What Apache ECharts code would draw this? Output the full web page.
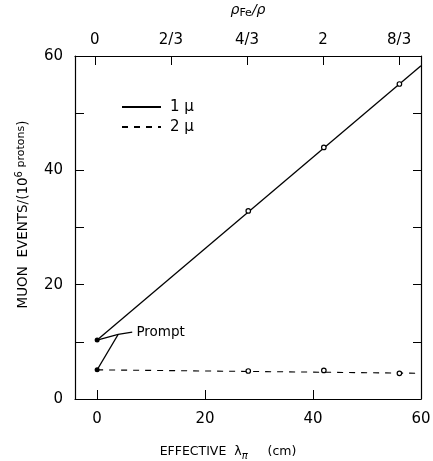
<!DOCTYPE html>
<html><head><meta charset="utf-8">
<script src="https://cdn.jsdelivr.net/npm/echarts@6/dist/echarts.min.js"></script>
<style>html,body{margin:0;padding:0;background:#fff}#c{width:433px;height:461px}</style>
</head><body><div id="c"></div>
<script>
// ---- data ----
const bottomTicks = [0, 20, 40, 60];
const topTicks = [0, 2, 4, 6, 8];           // in units of 1/3
const topTickLabels = ['0', '2/3', '4/3', '2', '8/3'];
const yTicks = [0, 10, 20, 30, 40, 50, 60];
const yTickLabels = ['0', '', '20', '', '40', '', '60'];

const mu1Points = [[28, 32.9], [42, 44.0], [56, 55.1]];
const mu2Points = [[28, 4.9], [42, 5.0], [56, 4.5]];
const promptPoints = [[0, 10.3], [0, 5.1]];
const fit1 = [[0, 10.3], [60, 58.3]];
const fit2 = [[0, 5.1], [60, 4.5]];
const leader1 = [[6.5, 11.7], [3.9, 11.3], [0, 10.3]];
const leader2 = [[3.9, 11.3], [0, 5.1]];
const promptLabel = [[6.9, 11.6]];

const FONT = 'DejaVu Sans, Liberation Sans, sans-serif';
const chart = echarts.init(document.getElementById('c'), null, {renderer: 'canvas'});
const axisLine = {show: true, onZero: false, lineStyle: {color: '#000', width: 1.2}};
chart.setOption({
  backgroundColor: '#fff',
  animation: false,
  grid: {left: 75, right: 12, top: 56, bottom: 62, containLabel: false, outerBoundsMode: 'none'},
  legend: {
    orient: 'vertical', left: 116, top: 94, itemWidth: 39, itemHeight: 12, itemGap: 4,
    data: ['1 μ', '2 μ'],
    itemStyle: {opacity: 0},
    textStyle: {fontFamily: FONT, fontSize: 15, lineHeight: 16, color: '#000', padding: [0, 0, 0, 4]}
  },
  xAxis: [
    {type: 'value', position: 'bottom', min: -4.1, max: 60,
     axisLine: axisLine, splitLine: {show: false},
     axisTick: {inside: true, length: 9, customValues: bottomTicks, lineStyle: {color: '#000'}},
     axisLabel: {customValues: bottomTicks, fontFamily: FONT, fontSize: 15, color: '#000', margin: 13},
     name: '{a|EFFECTIVE  λ}{s|π}{a|     (cm)}', nameLocation: 'middle', nameGap: 44,
     nameTextStyle: {padding: [0, 40, 0, 0],
                     rich: {a: {fontFamily: FONT, fontSize: 12.5, color: '#000'},
                            s: {fontFamily: FONT, fontSize: 10, color: '#000', fontStyle: 'italic', padding: [8, 0, 0, 0]}}}
    },
    {type: 'value', position: 'top', min: -0.52, max: 8.575,
     axisLine: axisLine, splitLine: {show: false},
     axisTick: {inside: true, length: 9, customValues: topTicks, lineStyle: {color: '#000'}},
     axisLabel: {customValues: topTicks, fontFamily: FONT, fontSize: 15, color: '#000', margin: 8,
                 formatter: v => topTickLabels[topTicks.indexOf(v)]},
     name: '{r|ρ}{s|Fe}{r|/ρ}', nameLocation: 'middle', nameGap: 37,
     nameTextStyle: {rich: {r: {fontFamily: FONT, fontSize: 14, color: '#000', fontStyle: 'italic'},
                            s: {fontFamily: FONT, fontSize: 11, color: '#000', padding: [6, 0, 0, 0]}}}
    }
  ],
  yAxis: [
    {type: 'value', position: 'left', min: 0, max: 60,
     axisLine: axisLine, splitLine: {show: false},
     axisTick: {inside: true, length: 9, customValues: yTicks, lineStyle: {color: '#000'}},
     axisLabel: {customValues: yTicks, fontFamily: FONT, fontSize: 15, color: '#000', margin: 12,
                 formatter: v => yTickLabels[yTicks.indexOf(v)]},
     name: '{a|MUON  EVENTS/(10}{u|6}{p| protons}{a|)}', nameLocation: 'middle', nameGap: 43, nameRotate: 90,
     nameTextStyle: {padding: [0, 0, 0, 26],
                     rich: {a: {fontFamily: FONT, fontSize: 13.5, color: '#000'},
                            u: {fontFamily: FONT, fontSize: 10, color: '#000', padding: [0, 0, 8, 0]},
                            p: {fontFamily: FONT, fontSize: 11, color: '#000', padding: [0, 0, 4, 0]}}}
    },
    {type: 'value', position: 'right', min: 0, max: 60,
     axisLine: axisLine, splitLine: {show: false},
     axisTick: {inside: true, length: 8, customValues: yTicks, lineStyle: {color: '#000'}},
     axisLabel: {show: false}
    }
  ],
  series: [
    {name: '1 μ', type: 'line', data: fit1, symbol: 'none', lineStyle: {color: '#000', width: 1.3}, itemStyle: {color: '#000'}},
    {name: '2 μ', type: 'line', data: fit2, symbol: 'none', lineStyle: {color: '#000', width: 1.1, type: [6, 6]}, itemStyle: {color: '#000'}},
    {type: 'scatter', data: mu1Points, symbol: 'circle', symbolSize: 4.5,
     itemStyle: {color: '#fff', borderColor: '#000', borderWidth: 1.2, opacity: 1}, z: 5},
    {type: 'scatter', data: mu2Points, symbol: 'circle', symbolSize: 4.5,
     itemStyle: {color: '#fff', borderColor: '#000', borderWidth: 1.2, opacity: 1}, z: 5},
    {type: 'scatter', data: promptPoints, symbol: 'circle', symbolSize: 5,
     itemStyle: {color: '#000', opacity: 1}, z: 5},
    {type: 'line', data: leader1, symbol: 'none', lineStyle: {color: '#000', width: 1.2}},
    {type: 'line', data: leader2, symbol: 'none', lineStyle: {color: '#000', width: 1.2}},
    {type: 'scatter', data: promptLabel, symbolSize: 0, itemStyle: {opacity: 1},
     label: {show: true, position: 'right', distance: 2, formatter: 'Prompt',
             fontFamily: FONT, fontSize: 13.5, color: '#000', opacity: 1}}
  ]
});
</script></body></html>
